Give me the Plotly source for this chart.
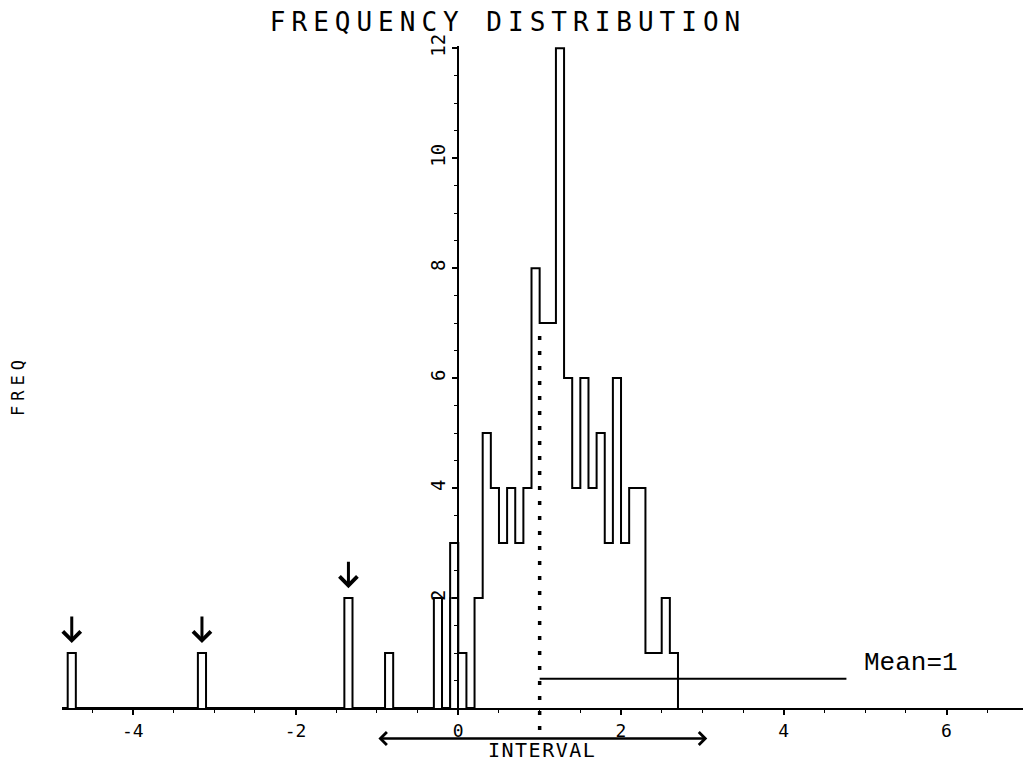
import numpy as np
import plotly.graph_objects as go

# ---------------- data ----------------
bin_width = 0.1
# left edges of the non-empty interval bins and their frequencies
bin_left = [-4.8, -3.2, -1.4, -0.9, -0.3, -0.1, 0.0, 0.2, 0.3, 0.4, 0.5, 0.6, 0.7, 0.8, 0.9,
            1.0, 1.1, 1.2, 1.3, 1.4, 1.5, 1.6, 1.7, 1.8, 1.9, 2.0, 2.1, 2.2, 2.3, 2.4, 2.5, 2.6]
bin_freq = [1, 1, 2, 1, 2, 3, 1, 2, 5, 4, 3, 4, 3, 4, 8,
            7, 7, 12, 6, 4, 6, 4, 5, 3, 6, 3, 4, 4, 1, 1, 2, 1]
# inner (overlapping) bar seen inside the bin just left of zero
inner_left = [-0.1]
inner_freq = [2]
# outlying bins marked with arrows
flagged_left = [-4.8, -3.2, -1.4]

mean_value = 1.0
mean_label = "Mean=1"
mean_line_y = 0.53
mean_line_end = 4.77
dot_bottom, dot_top = -0.4, 6.9
interval_lo, interval_hi = -1.0, 3.06

x_tickvals = [-4, -2, 0, 2, 4, 6]
x_ticktext = ["-4", "-2", "0", "2", "4", "6"]
y_tickvals = [2, 4, 6, 8, 10, 12]
y_ticktext = ["2", "4", "6", "8", "10", "12"]

x_range = [-4.87, 6.94]
y_range = [0, 12.04]

MONO = "DejaVu Sans Mono"


def step_xy(lefts, freqs, w):
    lo = round(min(lefts) - w, 3)
    hi = round(max(lefts) + w, 3)
    n = int(round((hi - lo) / w))
    edges = np.round(lo + w * np.arange(n + 1), 3)
    counts = np.zeros(n + 1)
    for l, f in zip(lefts, freqs):
        counts[int(round((l - lo) / w))] = f
    return edges, counts


fig = go.Figure()

ex, ey = step_xy(bin_left, bin_freq, bin_width)
fig.add_trace(go.Scatter(x=ex, y=ey, mode="lines", line_shape="hv",
                         line=dict(color="black", width=2), showlegend=False,
                         hoverinfo="skip"))
ix, iy = step_xy(inner_left, inner_freq, bin_width)
fig.add_trace(go.Scatter(x=ix, y=iy, mode="lines", line_shape="hv",
                         line=dict(color="black", width=1.5), showlegend=False,
                         hoverinfo="skip"))
# horizontal mean marker line
fig.add_trace(go.Scatter(x=[mean_value, mean_line_end], y=[mean_line_y, mean_line_y],
                         mode="lines", line=dict(color="black", width=2),
                         showlegend=False, hoverinfo="skip"))

yspan = y_range[1] - y_range[0]
# dotted line at the mean (extends below the axis)
fig.add_shape(type="line", xref="x", yref="paper",
              x0=mean_value, x1=mean_value,
              y0=(dot_bottom - y_range[0]) / yspan, y1=(dot_top - y_range[0]) / yspan,
              line=dict(color="black", width=3.5, dash="4px,11px"))

annotations = []
freq_of = dict(zip(bin_left, bin_freq))
for l in flagged_left:
    annotations.append(dict(x=l + bin_width / 2, y=freq_of[l] + 0.18, xref="x", yref="y",
                            ax=0, ay=-28, text="", showarrow=True,
                            arrowhead=4, arrowsize=1.15, arrowwidth=3, arrowcolor="black"))
# double-headed interval arrow below the axis
annotations.append(dict(x=interval_hi, y=-0.555 / yspan, xref="x", yref="paper",
                        ax=interval_lo, ay=0, axref="x", ayref="pixel",
                        text="", showarrow=True, arrowside="end+start",
                        arrowhead=4, startarrowhead=4, arrowsize=1.0, startarrowsize=1.0,
                        arrowwidth=2.5, arrowcolor="black"))
annotations.append(dict(x=0.4995, y=-0.0627, xref="paper", yref="paper",
                        text='<span style="letter-spacing:1.5px">INTERVAL</span>',
                        showarrow=False, xanchor="center", yanchor="middle",
                        font=dict(family=MONO, size=20, color="black")))
annotations.append(dict(x=-0.0458, y=0.488, xref="paper", yref="paper",
                        text='<span style="letter-spacing:5px">FREQ</span>', textangle=-90,
                        showarrow=False, xanchor="center", yanchor="middle",
                        font=dict(family=MONO, size=17, color="black")))
annotations.append(dict(x=mean_line_end + 0.19, y=0.82, xref="x", yref="y",
                        text=mean_label, showarrow=False, xanchor="left", yanchor="middle",
                        font=dict(family="Liberation Mono", size=26, color="black")))

ypos = (0 - x_range[0]) / (x_range[1] - x_range[0])

fig.update_layout(
    width=1023, height=763,
    margin=dict(l=62, r=0, t=46, b=55),
    paper_bgcolor="white", plot_bgcolor="white",
    title=dict(text='<span style="letter-spacing:6px">FREQUENCY DISTRIBUTION</span>',
               x=0.4966, xref="container", xanchor="center",
               y=0.971, yref="container", yanchor="middle",
               font=dict(family=MONO, size=26, color="black")),
    xaxis=dict(range=x_range, domain=[0, 1], showgrid=False, zeroline=False,
               showline=True, linecolor="black", linewidth=2,
               tickvals=x_tickvals, ticktext=x_ticktext,
               ticks="outside", ticklen=5, tickwidth=1.5, tickcolor="black",
               minor=dict(dtick=0.5, tick0=0, ticks="outside", ticklen=3,
                          tickwidth=1, tickcolor="black", showgrid=False),
               tickfont=dict(family=MONO, size=18, color="black")),
    yaxis=dict(range=y_range, anchor="free", position=ypos, showgrid=False,
               zeroline=False, showline=True, linecolor="black", linewidth=2,
               tickvals=y_tickvals, ticktext=y_ticktext, tickangle=-90,
               ticks="outside", ticklen=5, tickwidth=1.5, tickcolor="black",
               minor=dict(dtick=0.5, tick0=0, ticks="outside", ticklen=3,
                          tickwidth=1, tickcolor="black", showgrid=False),
               tickfont=dict(family=MONO, size=19, color="black")),
    annotations=annotations,
    showlegend=False,
)

fig.write_html("out.html")
